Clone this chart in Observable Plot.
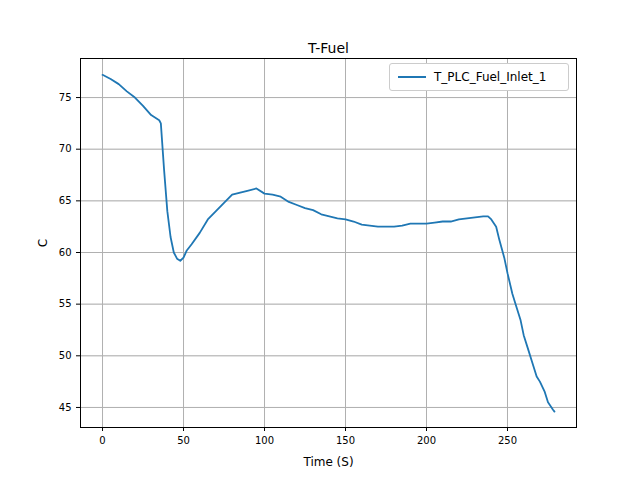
<!DOCTYPE html>
<html><head>
<script src="https://cdn.jsdelivr.net/npm/d3@7"></script>
<script src="https://cdn.jsdelivr.net/npm/@observablehq/plot@0.6"></script>
<style>
body{margin:0;background:#fff;font-family:"DejaVu Sans",sans-serif}
#wrap{position:relative;width:640px;height:480px}
#legend{position:absolute;left:389px;top:63px;width:170px;height:26px;border:1px solid #ccc;border-radius:3px;background:#fff;font-size:12px;display:flex;align-items:center;padding-left:8px}
#legend span.l{display:inline-block;width:28px;height:2px;background:#1f77b4;margin-right:8px}
g[aria-label="x-axis label"] text, g[aria-label="y-axis label"] text{font-size:12px}
</style>
</head><body>
<div id="wrap"><div id="chart"></div><div id="legend"><span class="l"></span>T_PLC_Fuel_Inlet_1</div></div>
<script>
const time = [0,5,10,15,20,25,30,35,36,38,40,42,44,46,48,50,52,55,60,65,70,75,80,85,90,95,100,105,110,115,120,125,130,135,140,145,150,155,160,165,170,175,180,185,190,195,200,205,210,215,220,225,230,235,238,240,243,245,248,250,253,255,258,260,263,265,268,270,273,275,278,279];
const temp = [77.2,76.8,76.3,75.6,75.0,74.2,73.3,72.8,72.5,68,64,61.5,60,59.4,59.2,59.5,60.2,60.8,61.9,63.2,64.0,64.8,65.6,65.8,66.0,66.2,65.7,65.6,65.4,64.9,64.6,64.3,64.1,63.7,63.5,63.3,63.2,63.0,62.7,62.6,62.5,62.5,62.5,62.6,62.8,62.8,62.8,62.9,63.0,63.0,63.2,63.3,63.4,63.5,63.5,63.2,62.5,61.2,59.5,58,56,55,53.5,52,50.5,49.5,48,47.5,46.5,45.5,44.8,44.6];
const data = time.map((t, i) => ({t, v: temp[i]}));

const chart = Plot.plot({
  width: 640, height: 480,
  marginLeft: 80, marginRight: 64, marginTop: 58, marginBottom: 53,
  style: {fontFamily: "DejaVu Sans", fontSize: "10px", color: "#000"},
  x: {domain: [-13.6, 292.6], ticks: [0,50,100,150,200,250], grid: true, label: "Time (S)", labelAnchor: "center", labelArrow: "none", labelOffset: 38, tickSize: 4},
  y: {domain: [43.06, 78.78], ticks: [45,50,55,60,65,70,75], grid: true, label: "C", labelAnchor: "center", labelArrow: "none", labelOffset: 42, tickSize: 4},
  marks: [
    Plot.gridX([0,50,100,150,200,250], {stroke: "#b0b0b0", strokeOpacity: 1}),
    Plot.gridY([45,50,55,60,65,70,75], {stroke: "#b0b0b0", strokeOpacity: 1}),
    Plot.frame({stroke: "#000"}),
    Plot.line(data, {x: "t", y: "v", stroke: "#1f77b4", strokeWidth: 1.8}),
    Plot.text(["T-Fuel"], {frameAnchor: "top", dy: -15, fontSize: 14, fill: "#000"})
  ]
});
document.getElementById("chart").append(chart);
</script>
</body></html>
